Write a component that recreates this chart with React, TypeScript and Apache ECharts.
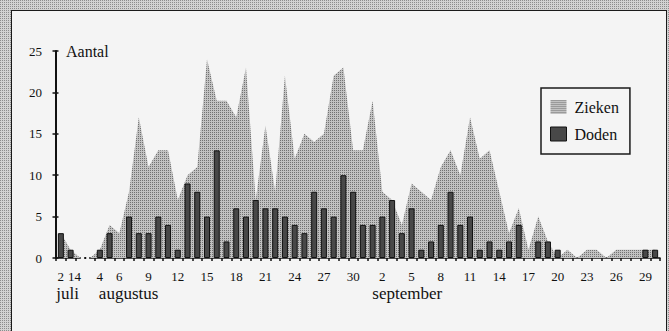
import { useEffect, useRef } from "react";
import * as echarts from "echarts";

const categories: string[] = [
  "2 juli", "14 juli", "gap1", "gap2",
  "4 aug", "5 aug", "6 aug", "7 aug", "8 aug", "9 aug", "10 aug", "11 aug", "12 aug", "13 aug",
  "14 aug", "15 aug", "16 aug", "17 aug", "18 aug", "19 aug", "20 aug", "21 aug", "22 aug", "23 aug",
  "24 aug", "25 aug", "26 aug", "27 aug", "28 aug", "29 aug", "30 aug", "31 aug",
  "1 sep", "2 sep", "3 sep", "4 sep", "5 sep", "6 sep", "7 sep", "8 sep", "9 sep", "10 sep",
  "11 sep", "12 sep", "13 sep", "14 sep", "15 sep", "16 sep", "17 sep", "18 sep", "19 sep", "20 sep",
  "21 sep", "22 sep", "23 sep", "24 sep", "25 sep", "26 sep", "27 sep", "28 sep", "29 sep", "30 sep",
];

const labelledDays: string[] = [
  "2 juli", "14 juli", "4 aug", "6 aug", "9 aug", "12 aug", "15 aug", "18 aug", "21 aug", "24 aug",
  "27 aug", "30 aug", "2 sep", "5 sep", "8 sep", "11 sep", "14 sep", "17 sep", "20 sep", "23 sep",
  "26 sep", "29 sep",
];

const monthNames: string[] = ["juli", "augustus", "september"];
const monthAnchors: string[] = ["2 juli", "4 aug", "2 sep"];

const zieken: number[] = [
  3, 1, 0, 0,
  1, 4, 3, 8, 17, 11, 13, 13, 7, 10, 11, 24, 19, 19, 17, 23, 7, 16, 8, 22, 12, 15, 14, 15, 22, 23, 13, 13,
  19, 8, 7, 4, 9, 8, 7, 11, 13, 10, 17, 12, 13, 8, 3, 6, 1, 5, 2, 0, 1, 0, 1, 1, 0, 1, 1, 1, 1, 1,
];

const doden: number[] = [
  3, 1, 0, 0,
  1, 3, 0, 5, 3, 3, 5, 4, 1, 9, 8, 5, 13, 2, 6, 5, 7, 6, 6, 5, 4, 3, 8, 6, 5, 10, 8, 4,
  4, 5, 7, 3, 6, 1, 2, 4, 8, 4, 5, 1, 2, 1, 2, 4, 0, 2, 2, 1, 0, 0, 0, 0, 0, 0, 0, 0, 1, 1,
];

const yMin = 0;
const yMax = 25;
const yStep = 5;

// style-only offsets
const monthDx = [-4.5, -1, -10];
const shiftedLabels = ["14 juli"];

const FONT = "'Liberation Serif', 'Times New Roman', serif";
const INK = "#111";
const PANEL = "#f4f4f4";

function makeTile(dark: string, light: string): string {
  const c = document.createElement("canvas");
  c.width = 2;
  c.height = 2;
  const ctx = c.getContext("2d")!;
  ctx.fillStyle = light;
  ctx.fillRect(0, 0, 2, 2);
  ctx.fillStyle = dark;
  ctx.fillRect(0, 0, 1, 1);
  return c.toDataURL();
}

export default function App() {
  const ref = useRef<HTMLDivElement>(null);
  const bgTile = typeof document !== "undefined" ? makeTile("#8c8c8c", "#d2d2d2") : "";

  useEffect(() => {
    const el = ref.current!;
    const chart = echarts.init(el, null, { renderer: "svg" });
    const tile = makeTile("#727272", "#c2c2c2");
    const pattern: any = { image: tile, repeat: "repeat", imageWidth: 2, imageHeight: 2 };

    chart.setOption({
      animation: false,
      backgroundColor: "transparent",
      grid: { left: 56, right: 9, top: 51, bottom: 73, containLabel: false },
      legend: {
        orient: "vertical",
        left: 541,
        top: 88,
        padding: [11, 11, 12, 9],
        itemGap: 11,
        itemWidth: 16,
        itemHeight: 14,
        borderColor: "#1a1a1a",
        borderWidth: 1.5,
        backgroundColor: PANEL,
        selectedMode: false,
        textStyle: { fontFamily: FONT, fontSize: 16, color: INK, padding: [0, 0, 0, 3] },
        data: [
          { name: "Zieken", icon: "rect", itemStyle: { color: pattern, borderWidth: 0 } },
          { name: "Doden", icon: "rect", itemStyle: { color: "#484848", borderColor: INK, borderWidth: 1 } },
        ],
      },
      xAxis: {
        type: "category",
        data: categories,
        boundaryGap: true,
        axisLine: { show: true, lineStyle: { color: INK, width: 1.5 } },
        axisTick: { show: true, interval: 0, length: 3, lineStyle: { color: INK, width: 1.5 } },
        axisLabel: {
          interval: 0,
          margin: 12,
          fontFamily: FONT,
          fontSize: 13,
          color: INK,
          formatter: (v: string) => {
            if (!labelledDays.includes(v)) return "";
            const t = v.split(" ")[0];
            return shiftedLabels.includes(v) ? `{s|${t}}` : t;
          },
          rich: {
            s: { fontFamily: FONT, fontSize: 13, color: INK, padding: [0, 0, 0, 8] },
          },
        },
        splitLine: { show: false },
      },
      yAxis: [
        {
          type: "value",
          min: yMin,
          max: yMax,
          interval: yStep,
          position: "left",
          name: "Aantal",
          nameLocation: "end",
          nameGap: 0,
          nameTextStyle: {
            fontFamily: FONT,
            fontSize: 16,
            color: INK,
            align: "left",
            verticalAlign: "middle",
            padding: [0, 0, 0, 10],
          },
          axisLine: { show: true, lineStyle: { color: INK, width: 2 } },
          axisTick: { show: true, length: 3.5, lineStyle: { color: INK, width: 1.5 } },
          axisLabel: { margin: 14, fontFamily: FONT, fontSize: 13, color: INK },
          splitLine: { show: false },
        },
        {
          type: "value",
          min: yMin,
          max: yMax,
          interval: yStep,
          position: "left",
          offset: 0,
          axisLine: { show: false },
          axisTick: { show: true, inside: true, length: 2.5, lineStyle: { color: INK, width: 1.5 } },
          axisLabel: { show: false },
          splitLine: { show: false },
        },
      ],
      series: [
        {
          name: "Zieken",
          type: "line",
          data: zieken,
          symbol: "none",
          lineStyle: { width: 0, opacity: 0 },
          itemStyle: { color: "#9a9a9a" },
          areaStyle: { color: pattern, opacity: 1 },
          z: 1,
        },
        {
          name: "Doden",
          type: "bar",
          data: doden.map((v) => (v === 0 ? null : v)),
          barWidth: 6,
          itemStyle: { color: "#484848", borderColor: INK, borderWidth: 1 },
          z: 3,
        },
      ],
    });

    const y0 = chart.convertToPixel({ yAxisIndex: 0 }, 0) as number;
    const g1 = chart.convertToPixel({ xAxisIndex: 0 }, "gap1") as number;
    const g2 = chart.convertToPixel({ xAxisIndex: 0 }, "gap2") as number;

    const graphics: any[] = [
      {
        type: "rect",
        z: 100,
        shape: { x: g1 + 0.5, y: y0 - 2, width: g2 - g1 - 1.5, height: 7 },
        style: { fill: PANEL },
      },
      {
        type: "rect",
        z: 101,
        shape: { x: (g1 + g2) / 2 - 1, y: y0 - 1, width: 2, height: 2 },
        style: { fill: INK },
      },
    ];
    monthNames.forEach((name, i) => {
      const cx = chart.convertToPixel({ xAxisIndex: 0 }, monthAnchors[i]) as number;
      graphics.push({
        type: "text",
        z: 100,
        x: cx + monthDx[i],
        y: 293,
        style: {
          text: name,
          fontFamily: FONT,
          fontSize: 17,
          fill: INK,
          align: "left",
          verticalAlign: "middle",
          textAlign: "left",
          textVerticalAlign: "middle",
        },
      });
    });
    chart.setOption({ graphic: graphics });

    return () => chart.dispose();
  }, []);

  return (
    <div
      style={{
        position: "fixed",
        left: 0,
        top: 0,
        width: 669,
        height: 331,
        overflow: "hidden",
        backgroundImage: bgTile ? `url(${bgTile})` : undefined,
        backgroundColor: "#b4b4b4",
      }}
    >
      <div
        style={{
          position: "absolute",
          left: 11,
          top: 10,
          width: 656,
          height: 340,
          boxSizing: "border-box",
          border: "1.5px solid #1a1a1a",
          background: PANEL,
        }}
      />
      <div ref={ref} style={{ position: "absolute", left: 0, top: 0, width: 669, height: 331 }} />
    </div>
  );
}
